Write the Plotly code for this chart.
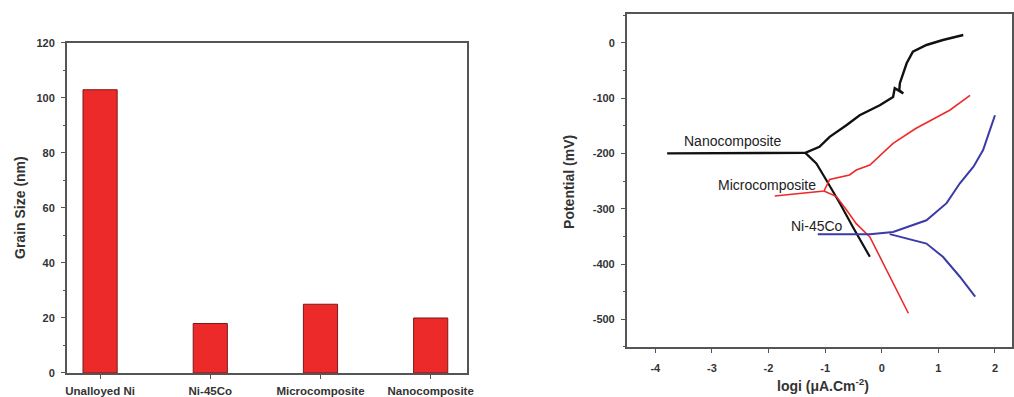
import plotly.graph_objects as go

# ---------------- Left chart data ----------------
categories = ["Unalloyed Ni", "Ni-45Co", "Microcomposite", "Nanocomposite"]
grain_size = [103, 18, 25, 20]
left_yticks = [0, 20, 40, 60, 80, 100, 120]

# ---------------- Right chart data ----------------
nano_anodic_x = [-3.79, -3.0, -2.0, -1.6, -1.35, -1.1, -0.92, -0.625, -0.39, -0.035, 0.2, 0.23, 0.38, 0.31, 0.32, 0.44, 0.55, 0.79, 1.08, 1.44]
nano_anodic_y = [-200, -200, -200, -200, -199, -188, -170, -149, -131, -113, -98, -82, -91.5, -85.5, -73, -37, -16, -4, 5, 14]
nano_cath_x = [-1.35, -1.155, -0.98, -0.74, -0.51, -0.21]
nano_cath_y = [-199, -218, -248, -290, -333, -387]

micro_anodic_x = [-1.89, -1.5, -1.19, -1.02, -0.92, -0.57, -0.45, -0.21, 0.2, 0.6, 1.2, 1.56]
micro_anodic_y = [-277, -273, -270, -268, -247, -239, -230, -221, -182, -155, -122, -95]
micro_cath_x = [-1.02, -0.8, -0.625, -0.45, -0.21, 0.085, 0.47]
micro_cath_y = [-268, -278, -302, -327, -351, -411, -489]

co_anodic_x = [-1.13, -0.6, -0.21, 0.2, 0.79, 1.145, 1.38, 1.62, 1.79, 1.91, 2.0]
co_anodic_y = [-346, -346, -346, -342, -321, -290, -254, -224, -194, -158, -131]
co_cath_x = [0.14, 0.32, 0.79, 1.08, 1.38, 1.65]
co_cath_y = [-346, -351, -363, -387, -423, -459]

right_xticks = [-4, -3, -2, -1, 0, 1, 2]
right_yticks = [0, -100, -200, -300, -400, -500]

label_text = ["Nanocomposite", "Microcomposite", "Ni-45Co"]
label_x = [-2.64, -2.02, -1.15]
label_y = [-178, -257, -331]

FONT = "Liberation Sans, Arial, sans-serif"
AXC = "#555555"
TXT = "#333333"

fig = go.Figure()

fig.add_trace(go.Bar(
    x=categories, y=grain_size, width=0.31,
    marker=dict(color="#ec2a2a", line=dict(color="#7a1a1a", width=1)),
    xaxis="x", yaxis="y", showlegend=False,
))

def add_line(xs, ys, color, width):
    fig.add_trace(go.Scatter(x=xs, y=ys, mode="lines",
                             line=dict(color=color, width=width),
                             xaxis="x2", yaxis="y2", showlegend=False))

add_line(nano_anodic_x, nano_anodic_y, "#111111", 2.4)
add_line(nano_cath_x, nano_cath_y, "#111111", 2.2)
add_line(micro_anodic_x, micro_anodic_y, "#ee2a2a", 1.6)
add_line(micro_cath_x, micro_cath_y, "#ee2a2a", 1.6)
add_line(co_anodic_x, co_anodic_y, "#3a3aa8", 2.0)
add_line(co_cath_x, co_cath_y, "#3a3aa8", 2.0)

for t, x, y in zip(label_text, label_x, label_y):
    fig.add_annotation(x=x, y=y, xref="x2", yref="y2", text=t, showarrow=False,
                       font=dict(family=FONT, size=14, color="#222222"))

# axis titles as paper annotations
titles = [
    ("<b>Grain Size (nm)</b>", 0.0197, 0.4786, -90),
    ("<b>Potential (mV)</b>", 0.5611, 0.5416, -90),
    ("<b>logi (μA.Cm<sup>-2</sup>)</b>", 0.8116, 0.0302, 0),
]
for t, x, y, ang in titles:
    fig.add_annotation(x=x, y=y, xref="paper", yref="paper", text=t, showarrow=False,
                       textangle=ang, xanchor="center", yanchor="middle",
                       font=dict(family=FONT, size=14, color=TXT))

common = dict(showline=True, linecolor=AXC, linewidth=2, mirror=True,
              ticks="outside", tickcolor=AXC, ticklen=4, tickwidth=1,
              showgrid=False, zeroline=False, automargin=False,
              tickfont=dict(family=FONT, size=11, color=TXT, weight="bold"))

fig.update_layout(
    width=1014, height=397,
    margin=dict(l=0, r=0, t=0, b=0),
    paper_bgcolor="white", plot_bgcolor="white",
    xaxis=dict(domain=[0.0661, 0.4606], range=[-0.3, 3.33], **common),
    yaxis=dict(domain=[0.0605, 0.8917], range=[0, 120],
               tickvals=left_yticks, ticktext=[str(v) for v in left_yticks],
               minor=dict(dtick=10, ticks="outside", ticklen=2, tickcolor=AXC),
               **common),
    xaxis2=dict(domain=[0.6183, 0.998], range=[-4.5, 2.3],
                tickvals=right_xticks, ticktext=[str(v) for v in right_xticks],
                anchor="y2", **common),
    yaxis2=dict(domain=[0.126, 0.9647], range=[-550, 52],
                tickvals=right_yticks, ticktext=[str(v) for v in right_yticks],
                anchor="x2",
                minor=dict(dtick=50, ticks="outside", ticklen=2, tickcolor=AXC),
                **common),
)
fig.update_layout(xaxis_ticklabelstandoff=2, xaxis2_ticklabelstandoff=6,
                  xaxis_tickfont_size=11.5)
fig.update_yaxes(ticklabelstandoff=4)

fig.write_html("out.html")
